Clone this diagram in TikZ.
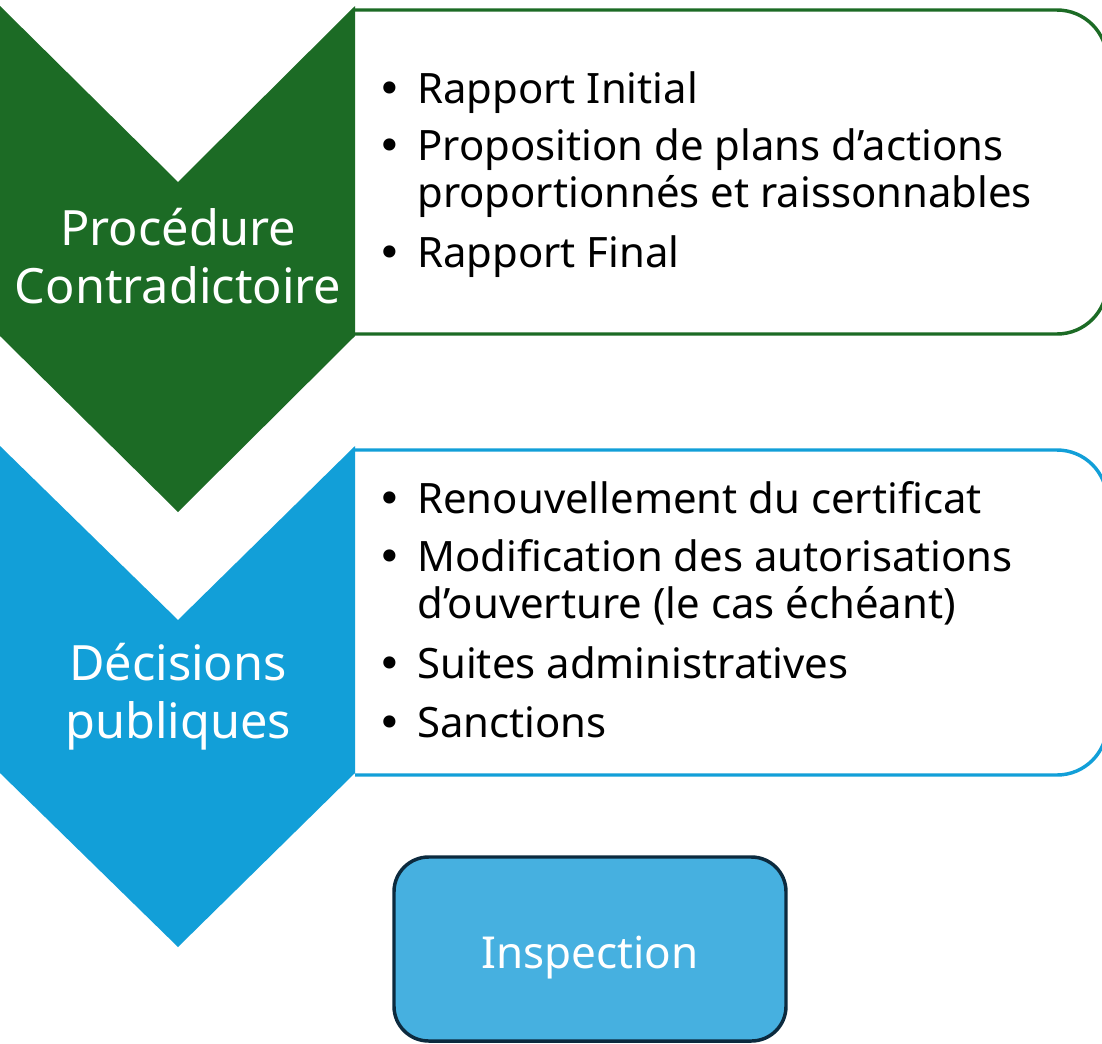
\documentclass[tikz,border=0pt]{standalone}
\usepackage{fontspec}
\setmainfont{Noto Sans}[Ligatures=NoCommon]
\newfontfamily\pucefont{DejaVu Sans}
\usepackage{xcolor}
\usetikzlibrary{positioning}

\definecolor{vertproc}{HTML}{1C6B25}
\definecolor{bleudec}{HTML}{129FD8}
\definecolor{bleuinsp}{HTML}{46B0E0}
\definecolor{bordinsp}{HTML}{0C2A3E}

% puce en retrait devant chaque item
\newcommand{\puce}{\makebox[0pt][r]{{\pucefont •}\hspace{11.25pt}}}

\begin{document}
\begin{tikzpicture}[x=0.75pt, y=-0.75pt]

    \tikzstyle{titre} = [
        anchor=base,
        text=white,
        inner sep=0pt,
        font=\fontsize{36.5}{43.5}\selectfont
    ]
    \tikzstyle{item} = [
        anchor=base west,
        inner sep=0pt,
        font=\fontsize{31.4}{35.25}\selectfont
    ]
    \tikzstyle{cadre} = [
        line width=2.6pt,
        fill=white,
        rounded corners=37.5pt
    ]
    \tikzstyle{inspect} = [
        rectangle,
        draw=bordinsp,
        fill=bleuinsp,
        line width=2.6pt,
        rounded corners=26pt,
        minimum width=294pt,
        minimum height=138pt,
        text=white,
        text height=28.5pt,
        text depth=0pt,
        font=\fontsize{33}{40}\selectfont
    ]

    \useasboundingbox (0,0) rectangle (1102,1043);

    % cadres de droite (coins arrondis a droite seulement)
    \draw [cadre, draw=vertproc] (355,10) -- (1107,10) -- (1107,334) -- (355,334);
    \draw [cadre, draw=bleudec] (355,450) -- (1107,450) -- (1107,775) -- (355,775);

    % chevrons
    \fill [vertproc] (0,6) -- (178,182) -- (355,6) -- (355,336) -- (178,512) -- (0,336) -- cycle;
    \fill [bleudec] (0,446) -- (178,620) -- (355,446) -- (355,773) -- (178,947) -- (0,773) -- cycle;

    \node [titre] at (178,245) (proc) {Procédure};
    \node [titre, below=43.5pt of proc.base, anchor=base] (contra) {Contradictoire};

    \node [titre] at (178,680) (dec) {Décisions};
    \node [titre, below=43.5pt of dec.base, anchor=base] (pub) {publiques};

    % liste du haut
    \node [item] at (417,103) (rap) {\puce Rapport Initial};
    \node [item, below=43pt of rap.base west, anchor=base west] (prop) {\puce Proposition de plans d’actions};
    \node [item, below=35.25pt of prop.base west, anchor=base west] (prop2) {proportionnés et raissonnables};
    \node [item, below=45pt of prop2.base west, anchor=base west] (fin) {\puce Rapport Final};

    % liste du bas
    \node [item] at (417,513) (ren) {\puce Renouvellement du certificat};
    \node [item, below=43.5pt of ren.base west, anchor=base west] (mod) {\puce Modification des autorisations};
    \node [item, below=35.25pt of mod.base west, anchor=base west] (mod2) {d’ouverture (le cas échéant)};
    \node [item, below=45pt of mod2.base west, anchor=base west] (sui) {\puce Suites administratives};
    \node [item, below=44.25pt of sui.base west, anchor=base west] (san) {\puce Sanctions};

    \node [inspect] at (590,949) (insp) {Inspection};

\end{tikzpicture}
\end{document}
